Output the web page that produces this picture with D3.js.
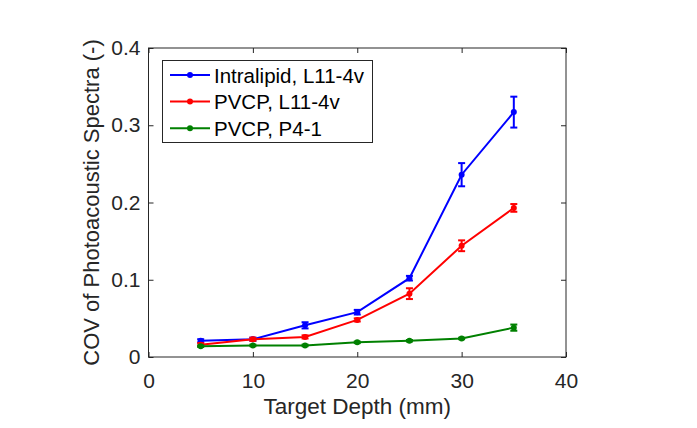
<!DOCTYPE html>
<html><head><meta charset="utf-8">
<script src="https://cdn.jsdelivr.net/npm/d3@7"></script>
<style>body{margin:0;background:#fff;} text{font-family:"Liberation Sans",Arial,sans-serif;}</style>
</head><body>
<svg id="c" width="697" height="428"></svg>
<script>
const depths = [5, 10, 15, 20, 25, 30, 35];
const seriesNames = ["Intralipid, L11-4v", "PVCP, L11-4v", "PVCP, P4-1"];
const seriesColors = ["#0000ff", "#ff0000", "#008000"];
const intralipidL11 = [0.021, 0.023, 0.041, 0.058, 0.102, 0.236, 0.317];
const intralipidL11Err = [0.002, 0.002, 0.004, 0.003, 0.003, 0.015, 0.020];
const pvcpL11 = [0.016, 0.023, 0.026, 0.048, 0.082, 0.144, 0.193];
const pvcpL11Err = [0.002, 0.002, 0.002, 0.002, 0.007, 0.007, 0.005];
const pvcpP41 = [0.014, 0.015, 0.015, 0.019, 0.021, 0.024, 0.038];
const pvcpP41Err = [0.001, 0.001, 0.001, 0.001, 0.001, 0.001, 0.004];
const xTicks = [0, 10, 20, 30, 40];
const yTicks = [0, 0.1, 0.2, 0.3, 0.4];
const xLabel = "Target Depth (mm)";
const yLabel = "COV of Photoacoustic Spectra (-)";

const series = [
  {name: seriesNames[0], color: seriesColors[0], vals: intralipidL11, err: intralipidL11Err},
  {name: seriesNames[1], color: seriesColors[1], vals: pvcpL11, err: pvcpL11Err},
  {name: seriesNames[2], color: seriesColors[2], vals: pvcpP41, err: pvcpP41Err}
];

const svg = d3.select("#c");
const L = 148.5, R = 566, T = 48, B = 357;
const x = d3.scaleLinear().domain([0, 40]).range([L, R]);
const y = d3.scaleLinear().domain([0, 0.4]).range([B, T]);
const axisCol = "#262626";

// box
svg.append("rect").attr("x", L).attr("y", T).attr("width", R - L).attr("height", B - T)
  .attr("fill", "none").attr("stroke", axisCol).attr("stroke-width", 1);

const gx = svg.append("g").attr("transform", `translate(0,${B})`)
  .call(d3.axisBottom(x).tickValues(xTicks).tickSize(-5).tickPadding(16).tickFormat(d3.format("d")));
const gxt = svg.append("g").attr("transform", `translate(0,${T})`)
  .call(d3.axisTop(x).tickValues(xTicks).tickSize(-5).tickFormat(""));
const gy = svg.append("g").attr("transform", `translate(${L},0)`)
  .call(d3.axisLeft(y).tickValues(yTicks).tickSize(-5).tickPadding(8).tickFormat(d => d === 0 ? "0" : d3.format(".1f")(d)));
const gyr = svg.append("g").attr("transform", `translate(${R},0)`)
  .call(d3.axisRight(y).tickValues(yTicks).tickSize(-5).tickFormat(""));
[gx, gxt, gy, gyr].forEach(g => {
  g.select(".domain").remove();
  g.selectAll("line").attr("stroke", axisCol);
  g.selectAll("text").attr("fill", axisCol).attr("font-size", 21).attr("font-family", "Liberation Sans, Arial, sans-serif");
});

// labels
svg.append("text").attr("x", (L + R) / 2).attr("y", 414).attr("text-anchor", "middle")
  .attr("font-size", 22.5).attr("fill", axisCol).text(xLabel);
svg.append("text").attr("transform", `translate(99,${(T + B) / 2}) rotate(-90)`).attr("text-anchor", "middle")
  .attr("font-size", 22).attr("fill", axisCol).text(yLabel);

// series
const line = d3.line().x(d => x(d[0])).y(d => y(d[1]));
series.forEach(s => {
  const pts = depths.map((d, i) => [d, s.vals[i], s.err[i]]);
  const g = svg.append("g");
  g.append("path").datum(pts).attr("d", line).attr("fill", "none")
    .attr("stroke", s.color).attr("stroke-width", 2);
  const eb = g.selectAll(".eb").data(pts).enter().append("g");
  eb.append("line").attr("x1", d => x(d[0])).attr("x2", d => x(d[0]))
    .attr("y1", d => y(d[1] - d[2])).attr("y2", d => y(d[1] + d[2]))
    .attr("stroke", s.color).attr("stroke-width", 2);
  [-1, 1].forEach(sg => {
    eb.append("line").attr("x1", d => x(d[0]) - 3.5).attr("x2", d => x(d[0]) + 3.5)
      .attr("y1", d => y(d[1] + sg * d[2])).attr("y2", d => y(d[1] + sg * d[2]))
      .attr("stroke", s.color).attr("stroke-width", 2);
  });
  g.selectAll("circle").data(pts).enter().append("circle")
    .attr("cx", d => x(d[0])).attr("cy", d => y(d[1])).attr("r", 3).attr("fill", s.color);
});

// legend
const lg = svg.append("g");
lg.append("rect").attr("x", 162.5).attr("y", 60.5).attr("width", 210).attr("height", 82)
  .attr("fill", "#fff").attr("stroke", axisCol).attr("stroke-width", 1);
series.forEach((s, i) => {
  const yy = 75 + i * 26.6;
  lg.append("line").attr("x1", 170).attr("x2", 210).attr("y1", yy).attr("y2", yy)
    .attr("stroke", s.color).attr("stroke-width", 2);
  lg.append("circle").attr("cx", 190).attr("cy", yy).attr("r", 3).attr("fill", s.color);
  lg.append("text").attr("x", 214).attr("y", yy + 7.5).attr("font-size", 20.5).attr("fill", "#000").text(s.name);
});
</script>
</body></html>
